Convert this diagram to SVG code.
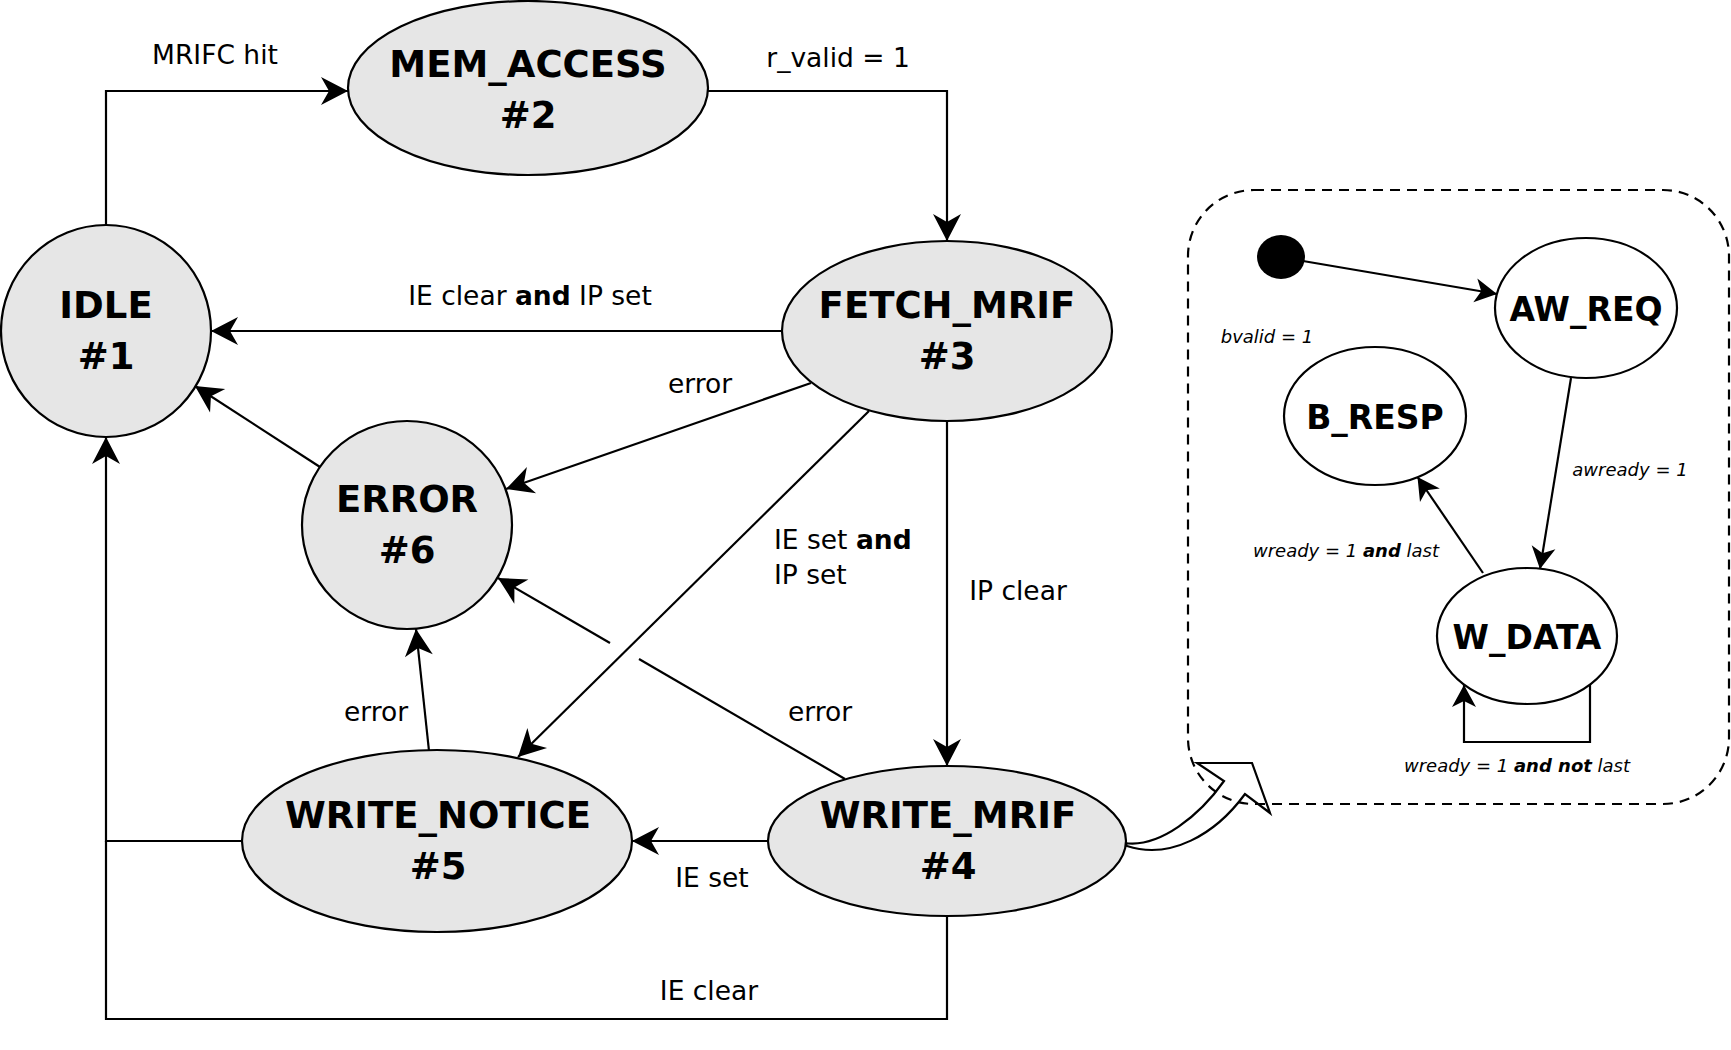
<svg xmlns="http://www.w3.org/2000/svg" width="1731" height="1050" viewBox="0 0 1731 1050">
<style>
.st{fill:#e6e6e6;stroke:#000;stroke-width:2.2}
.sw{fill:#fff;stroke:#000;stroke-width:2.2}
.nl{font-family:"DejaVu Sans",sans-serif;font-weight:bold;font-size:37px;text-anchor:middle}
.sl{font-family:"DejaVu Sans",sans-serif;font-weight:bold;font-size:33px;text-anchor:middle}
.el{font-family:"DejaVu Sans",sans-serif;font-size:26.5px}
.il{font-family:"DejaVu Sans",sans-serif;font-style:italic;font-size:18px}
.c{fill:none;stroke:#000;stroke-width:2.2}
.m{text-anchor:middle}
</style>
<defs>
<marker id="ah" markerUnits="userSpaceOnUse" markerWidth="30" markerHeight="30" refX="27" refY="14" orient="auto" overflow="visible">
<path d="M0,0 L27,14 L0,28 L8,14 Z" fill="#000"/>
</marker>
<marker id="as" markerUnits="userSpaceOnUse" markerWidth="24" markerHeight="24" refX="22" refY="12" orient="auto" overflow="visible">
<path d="M0,0 L22,12 L0,24 L6,12 Z" fill="#000"/>
</marker>
</defs>
<g id="connectors">
<path class="c" d="M106,226 V91 H348" marker-end="url(#ah)"/>
<path class="c" d="M708,91 H947 V241" marker-end="url(#ah)"/>
<path class="c" d="M782,331 H211" marker-end="url(#ah)"/>
<path class="c" d="M811,383 L506,489" marker-end="url(#ah)"/>
<path class="c" d="M320,467 L195,386" marker-end="url(#ah)"/>
<path class="c" d="M869,411 L518,757" marker-end="url(#ah)"/>
<path class="c" d="M947,422 V766" marker-end="url(#ah)"/>
<path class="c" d="M845,779 L639,659"/>
<path class="c" d="M610,643 L498,578" marker-end="url(#ah)"/>
<path class="c" d="M429,751 L416,629" marker-end="url(#ah)"/>
<path class="c" d="M768,841 H632" marker-end="url(#ah)"/>
<path class="c" d="M242,841 H106 V437" marker-end="url(#ah)"/>
<path class="c" d="M947,916 V1019 H106 V841"/>
<path class="c" d="M1303,261 L1497,294" marker-end="url(#as)"/>
<path class="c" d="M1571,378 L1540,569" marker-end="url(#as)"/>
<path class="c" d="M1483,573 L1417.5,477" marker-end="url(#as)"/>
<path class="c" d="M1590,685 V742 H1464 V685" marker-end="url(#as)"/>
<path d="M1125,843 C1160,848 1200,815 1224,781 L1197,763 L1252,763 L1270,813 L1245,794 C1215,835 1170,860 1127,846 Z" fill="#fff" stroke="#000" stroke-width="2.2"/>
</g>
<g id="labels">
<text class="el m" x="215" y="64">MRIFC hit</text>
<text class="el m" x="838" y="67">r_valid = 1</text>
<text class="el m" x="530" y="305">IE clear <tspan font-weight="bold">and</tspan> IP set</text>
<text class="el m" x="700" y="393">error</text>
<text class="el" x="774" y="549">IE set <tspan font-weight="bold">and</tspan></text>
<text class="el" x="774" y="584">IP set</text>
<text class="el m" x="1018" y="600">IP clear</text>
<text class="el m" x="376" y="721">error</text>
<text class="el m" x="820" y="721">error</text>
<text class="el m" x="712" y="887">IE set</text>
<text class="el m" x="709" y="1000">IE clear</text>
<text class="il m" x="1267" y="343">bvalid = 1</text>
<text class="il m" x="1630" y="476">awready = 1</text>
<text class="il m" x="1346" y="557">wready = 1 <tspan font-weight="bold">and</tspan> last</text>
<text class="il m" x="1517" y="772">wready = 1 <tspan font-weight="bold">and not</tspan> last</text>
</g>
<g id="idle"><ellipse class="st" cx="106" cy="331" rx="105" ry="106"/><text class="nl" x="106" y="318">IDLE</text><text class="nl" x="106" y="369">#1</text></g>
<g id="mem_access"><ellipse class="st" cx="528" cy="88" rx="180" ry="87"/><text class="nl" x="528" y="77">MEM_ACCESS</text><text class="nl" x="528" y="128">#2</text></g>
<g id="fetch_mrif"><ellipse class="st" cx="947" cy="331" rx="165" ry="90"/><text class="nl" x="947" y="318">FETCH_MRIF</text><text class="nl" x="947" y="369">#3</text></g>
<g id="error"><ellipse class="st" cx="407" cy="525" rx="105" ry="104"/><text class="nl" x="407" y="512">ERROR</text><text class="nl" x="407" y="563">#6</text></g>
<g id="write_notice"><ellipse class="st" cx="437" cy="841" rx="195" ry="91"/><text class="nl" x="438" y="828">WRITE_NOTICE</text><text class="nl" x="438" y="879">#5</text></g>
<g id="write_mrif"><ellipse class="st" cx="947" cy="841" rx="179" ry="75"/><text class="nl" x="948" y="828">WRITE_MRIF</text><text class="nl" x="948" y="879">#4</text></g>
<g id="axi_box"><rect x="1188" y="190" width="541" height="614" rx="66" fill="none" stroke="#000" stroke-width="2.2" stroke-dasharray="10,7"/></g>
<g id="init"><ellipse cx="1281" cy="257" rx="24" ry="22" fill="#000"/></g>
<g id="aw_req"><ellipse class="sw" cx="1586" cy="308" rx="91" ry="70"/><text class="sl" x="1586" y="321">AW_REQ</text></g>
<g id="b_resp"><ellipse class="sw" cx="1375" cy="416" rx="91" ry="69"/><text class="sl" x="1375" y="429">B_RESP</text></g>
<g id="w_data"><ellipse class="sw" cx="1527" cy="636" rx="90" ry="68"/><text class="sl" x="1527" y="649">W_DATA</text></g>
</svg>
